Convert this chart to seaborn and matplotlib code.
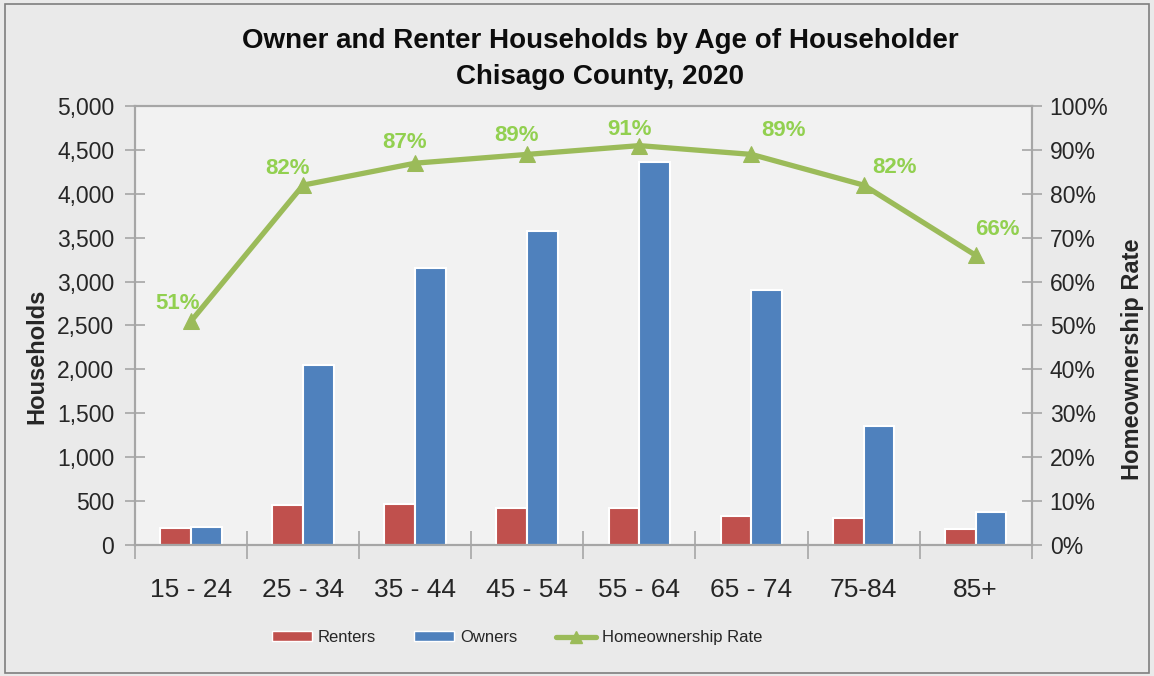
import pandas as pd
import numpy as np
import matplotlib.pyplot as plt
import matplotlib.ticker as mticker
from matplotlib.lines import Line2D
from matplotlib.patches import Patch, Rectangle
import seaborn as sns

sns.set_theme(style="white")
plt.rcParams['font.family'] = ['Liberation Sans', 'DejaVu Sans']

# data
age_groups = ['15 - 24', '25 - 34', '35 - 44', '45 - 54', '55 - 64', '65 - 74', '75-84', '85+']
renters = [190, 450, 462, 420, 420, 330, 305, 185]
owners = [200, 2050, 3155, 3580, 4365, 2910, 1350, 370]
own_rate = [0.51, 0.82, 0.87, 0.89, 0.91, 0.89, 0.82, 0.66]

# label offsets (points) for the rate labels
lbl_dx = [-10, -11, -8, -8, -7, 23, 22, 16]
lbl_dy = [5, 4.5, 7, 6, 4, 10, 5, 11]

df = pd.DataFrame({'Age': age_groups * 2,
                   'Households': renters + owners,
                   'Tenure': ['Renters'] * len(age_groups) + ['Owners'] * len(age_groups)})

red, blue, green, lime = '#C0504D', '#4F81BD', '#9BBB59', '#92D050'
bg, plot_bg, spine_c = '#EAEAEA', '#F2F2F2', '#A6A6A6'

fig = plt.figure(figsize=(11.54, 6.76), dpi=100, facecolor=bg)
ax = fig.add_axes([0.117, 0.194, 0.777, 0.649])
ax.set_facecolor(plot_bg)

sns.barplot(data=df, x='Age', y='Households', hue='Tenure', order=age_groups,
            palette={'Renters': red, 'Owners': blue}, width=0.55, saturation=1,
            edgecolor='white', linewidth=1.5, ax=ax, legend=False)

ax.set_ylim(0, 5000)
ax.set_xlim(-0.5, len(age_groups) - 0.5)
ax.yaxis.set_major_locator(mticker.MultipleLocator(500))
ax.yaxis.set_major_formatter(mticker.FuncFormatter(lambda v, p: f'{int(v):,}'))
ax.tick_params(axis='y', labelsize=16.5, direction='inout', length=14, width=1.2,
               color=spine_c, left=True, pad=8, labelcolor='#262626')

# category boundaries as major ticks, labels on minor ticks
ax.set_xticks(np.arange(-0.5, len(age_groups), 1))
ax.set_xticklabels([])
ax.set_xticks(np.arange(len(age_groups)), minor=True)
ax.set_xticklabels(age_groups, minor=True, fontsize=19, color='#262626')
ax.tick_params(axis='x', which='major', direction='inout', length=20, width=1.2,
               color=spine_c, bottom=True)
ax.tick_params(axis='x', which='minor', length=0, pad=24)
ax.set_xlabel('')
ax.set_ylabel('Households', fontsize=17, fontweight='bold')
ax.yaxis.set_label_coords(-0.097, 0.43)

for s in ax.spines.values():
    s.set_color(spine_c)
    s.set_linewidth(1.5)

ax2 = ax.twinx()
sns.lineplot(x=age_groups, y=own_rate, sort=False, color=green, linewidth=3.8,
             marker='^', markersize=12, markeredgecolor=green, ax=ax2)
ax2.set_ylim(0, 1.0)
ax2.yaxis.set_major_locator(mticker.MultipleLocator(0.1))
ax2.yaxis.set_major_formatter(mticker.PercentFormatter(1.0, decimals=0))
ax2.tick_params(axis='y', labelsize=16.5, direction='inout', length=14, width=1.2,
                color=spine_c, right=True, pad=6, labelcolor='#262626')
ax2.set_ylabel('Homeownership Rate', fontsize=17, fontweight='bold')
ax2.yaxis.set_label_coords(1.100, 0.424)
for s in ax2.spines.values():
    s.set_color(spine_c)
    s.set_linewidth(1.5)

for i, r in enumerate(own_rate):
    ax2.annotate(f'{round(r * 100)}%', (i, r), xytext=(lbl_dx[i], lbl_dy[i]),
                 textcoords='offset points', ha='center', va='bottom',
                 fontsize=16, fontweight='bold', color=lime)

fig.text(0.52, 0.94, 'Owner and Renter Households by Age of Householder',
         ha='center', va='center', fontsize=20, fontweight='bold', color='#0D0D0D')
fig.text(0.52, 0.886, 'Chisago County, 2020',
         ha='center', va='center', fontsize=20, fontweight='bold', color='#0D0D0D')

handles = [Patch(facecolor=red, edgecolor='white', label='Renters'),
           Patch(facecolor=blue, edgecolor='white', label='Owners'),
           Line2D([0], [0], color=green, linewidth=3.8, marker='^', markersize=8,
                  label='Homeownership Rate')]
fig.legend(handles=handles, loc='center', bbox_to_anchor=(0.448, 0.057), ncol=3,
           frameon=False, fontsize=12, handlelength=2.4, handleheight=0.55,
           columnspacing=2.3, handletextpad=0.35)

fig.patches.append(Rectangle((0.004, 0.004), 0.992, 0.99, transform=fig.transFigure,
                             fill=False, edgecolor='#7F7F7F', linewidth=1.2))

fig.savefig('out.png', dpi=100, facecolor=bg)
